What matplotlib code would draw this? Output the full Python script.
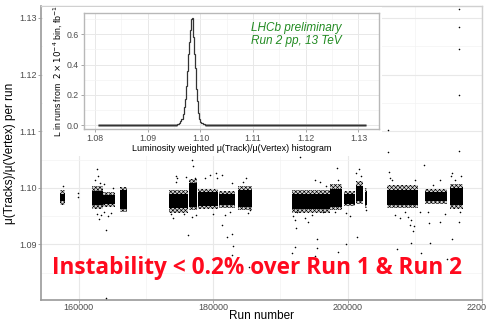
import matplotlib
matplotlib.use("Agg")
import matplotlib.pyplot as plt
from matplotlib.patches import Rectangle
import numpy as np

plt.rcParams['font.family'] = ['Liberation Sans', 'DejaVu Sans']
plt.rcParams['mathtext.fontset'] = 'dejavusans'
plt.rcParams['hatch.linewidth'] = 0.45

# dense blocks of runs: run range, outer (sparse) band, inner (dense) band
blk_start = [157250, 161950, 163600, 166150, 173500, 176400, 177800, 180900, 183700,
             191800, 197400, 199400, 201300, 202650, 205900, 211500, 215300]
blk_end = [157950, 163600, 165400, 167200, 176300, 177600, 180750, 183300, 185800,
           197400, 199200, 201150, 202350, 202950, 210500, 214800, 217200]
blk_lo = [1.0970, 1.0962, 1.0966, 1.0958, 1.0956, 1.0960, 1.0962, 1.0964, 1.0960,
          1.0956, 1.0960, 1.0968, 1.0972, 1.0964, 1.0964, 1.0972, 1.0963]
blk_hi = [1.0997, 1.1003, 1.0993, 1.1001, 1.0997, 1.1015, 1.0998, 1.0994, 1.1004,
          1.0996, 1.1007, 1.0994, 1.1012, 1.0999, 1.1005, 1.0998, 1.1006]
core_lo = [1.0977, 1.0970, 1.0971, 1.0963, 1.0964, 1.0966, 1.0968, 1.0969, 1.0967,
           1.0963, 1.0966, 1.0972, 1.0977, 1.0970, 1.0970, 1.0976, 1.0969]
core_hi = [1.0990, 1.0994, 1.0988, 1.0996, 1.0990, 1.1008, 1.0992, 1.0989, 1.0997,
           1.0990, 1.0998, 1.0990, 1.1004, 1.0993, 1.0997, 1.0993, 1.0999]

# isolated runs
run_pts = [216630, 216630, 216630, 216630, 216630, 206060, 206060, 211420, 192960, 176900,
           162720, 181340, 180450, 174490, 177020, 198480, 201750, 215600, 201290,
           164070, 164070, 176280, 182110, 182850, 183000, 182850, 185380, 181340, 192360,
           194150, 192210, 191760, 195480, 195480, 195180, 198610, 199800, 198910, 201440,
           207400, 209480, 209780, 210970, 212310, 215590, 214840, 212160, 213800, 216630,
           209330, 209030, 209480, 209930,
           162430, 162870, 163170, 163770, 165110, 162720, 163020, 163320, 163770, 164360,
           164810, 157660, 159900, 159900, 173740, 174040, 174490, 174640, 175980, 175680,
           176880, 177470, 177320, 178810, 179550, 180000, 180600, 181790, 182540, 182840,
           184480, 184930, 185230, 185530, 191910, 192210, 192510, 193700, 194740, 195190,
           195930, 196380, 196830, 198160, 198610, 199800, 200400, 202040, 202780, 206210,
           206360, 206660, 207110, 207860, 208600, 210090, 210830, 212020, 212760, 213800,
           214540, 215440, 216030, 216780, 216930]
val_pts = [1.1316, 1.1284, 1.1245, 1.1164, 1.1065, 1.1102, 1.1063, 1.1040, 1.1054, 1.1049,
           1.1033, 1.1022, 1.1026, 1.1021, 1.1038, 1.1035, 1.1033, 1.1026, 1.1026,
           1.0805, 1.0925, 1.0916, 1.0913, 1.0918, 1.0897, 1.0881, 1.0860, 1.0934, 1.0929,
           1.0939, 1.0895, 1.0885, 1.0909, 1.0893, 1.0879, 1.0886, 1.0901, 1.0865, 1.0913,
           1.0892, 1.0902, 1.0923, 1.0885, 1.0902, 1.0909, 1.0874, 1.0938, 1.0939, 1.0939,
           1.0934, 1.0948, 1.0943, 1.0932,
           1.1014, 1.1021, 1.1008, 1.1007, 1.0999, 1.0954, 1.0945, 1.0952, 1.0957, 1.0950,
           1.0955, 1.1003, 1.0991, 1.0984, 1.0954, 1.0946, 1.1010, 1.1017, 1.1019, 1.0954,
           1.0948, 1.0952, 1.1017, 1.1017, 1.1022, 1.0954, 1.1017, 1.0952, 1.0957, 1.1008,
           1.1010, 1.1017, 1.0955, 1.0961, 1.0950, 1.0943, 1.0957, 1.0946, 1.0952, 1.1014,
           1.1010, 1.0957, 1.1003, 1.0957, 1.1014, 1.0955, 1.0950, 1.1021, 1.0961, 1.1028,
           1.1017, 1.1014, 1.0952, 1.0946, 1.0957, 1.1014, 1.0957, 1.0957, 1.1005, 1.1014,
           1.0954, 1.1021, 1.1014, 1.0957, 1.1021]

# luminosity weighted histogram (2e-4 bins around the peak, flat tails)
hist_edges = [1.0805, 1.0956, 1.0958, 1.0960, 1.0962, 1.0964, 1.0966, 1.0968, 1.0970,
              1.0972, 1.0974, 1.0976, 1.0978, 1.0980, 1.0982, 1.0984, 1.0986, 1.0988,
              1.0990, 1.0992, 1.0994, 1.0996, 1.0998, 1.1000, 1.1002, 1.1004, 1.1006,
              1.1008, 1.1314]
hist_vals = [0.002, 0.004, 0.008, 0.015, 0.025, 0.04, 0.07, 0.12, 0.17, 0.26, 0.36,
             0.47, 0.55, 0.63, 0.70, 0.71, 0.58, 0.47, 0.38, 0.24, 0.16, 0.08, 0.04,
             0.02, 0.012, 0.008, 0.005, 0.002]

W, H = 486, 321
fig = plt.figure(figsize=(W / 100, H / 100), dpi=100)
ax = fig.add_axes([41 / W, 1 - 300 / H, 441 / W, 294 / H])

widths = np.array(blk_end) - np.array(blk_start)
ax.bar(blk_start, np.array(blk_hi) - np.array(blk_lo), width=widths, bottom=blk_lo,
       align='edge', facecolor='#d8d8d8', edgecolor='black', hatch='xxxxxxxx', linewidth=0,
       zorder=2)
ax.bar(blk_start, np.array(core_hi) - np.array(core_lo), width=widths, bottom=core_lo,
       align='edge', color='black', linewidth=0, zorder=2)
ax.scatter(run_pts, val_pts, s=1.3, color='black', linewidths=0, zorder=3)

ax.set_xlim(154400, 220000)
ax.set_ylim(1.0802, 1.1321)
ax.set_xticks([160000, 180000, 200000, 220000])
ax.set_xticks([170000, 190000, 210000], minor=True)
ax.set_yticks([1.09, 1.10, 1.11, 1.12, 1.13])
ax.set_yticklabels(['1.09', '1.10', '1.11', '1.12', '1.13'])
ax.set_yticks([1.085, 1.095, 1.105, 1.115, 1.125], minor=True)
ax.grid(which='major', color='#e8e8e8', lw=0.8, zorder=0)
ax.grid(which='minor', color='#f3f3f3', lw=0.5, zorder=0)
ax.set_axisbelow(True)
ax.tick_params(which='major', length=2, width=0.6, color='#999999', labelsize=6.5,
               labelcolor='#4d4d4d', pad=1.2)
ax.tick_params(axis='x', which='major', pad=0.4)
ax.tick_params(which='minor', length=0)
for s in ['left', 'bottom']:
    ax.spines[s].set_color('#9a9a9a')
    ax.spines[s].set_linewidth(1.2)
for s in ['top', 'right']:
    ax.spines[s].set_color('#d0d0d0')
    ax.spines[s].set_linewidth(1.0)
ax.set_xlabel('Run number', fontsize=8.5)
ax.xaxis.set_label_coords(0.5, -0.034)
ax.set_ylabel('μ(Tracks)/μ(Vertex) per run', fontsize=8.5, labelpad=2)

# white area behind the inset
ax.add_patch(Rectangle((43 / W, 1 - 156 / H), 339 / W, 149 / H, transform=fig.transFigure,
                       facecolor='white', edgecolor='none', zorder=5, clip_on=False))

ins = fig.add_axes([84 / W, 1 - 129 / H, 295 / W, 116 / H])
ins.stairs(hist_vals[:1], hist_edges[:2], baseline=None, color='#9a9a9a', lw=2)
ins.stairs(hist_vals[-1:], hist_edges[-2:], baseline=None, color='#9a9a9a', lw=2)
ins.stairs(hist_vals, hist_edges, baseline=None, color='#333333', lw=0.9)
ins.set_xlim(1.0779, 1.1339)
ins.set_ylim(-0.026, 0.741)
ins.set_xticks([1.08, 1.09, 1.10, 1.11, 1.12, 1.13])
ins.set_xticklabels(['1.08', '1.09', '1.10', '1.11', '1.12', '1.13'])
ins.set_xticks([1.085, 1.095, 1.105, 1.115, 1.125], minor=True)
ins.set_yticks([0.0, 0.2, 0.4, 0.6])
ins.set_yticklabels(['0.0', '0.2', '0.4', '0.6'])
ins.set_yticks([0.1, 0.3, 0.5, 0.7], minor=True)
ins.grid(which='major', color='#e8e8e8', lw=0.7)
ins.grid(which='minor', color='#f3f3f3', lw=0.5)
ins.set_axisbelow(True)
ins.tick_params(which='major', length=2, width=0.6, color='#999999', labelsize=6.3,
                labelcolor='#4d4d4d', pad=1.5)
ins.tick_params(which='minor', length=0)
for s in ins.spines.values():
    s.set_color('#b8b8b8')
    s.set_linewidth(1.0)
ins.set_xlabel('Luminosity weighted μ(Track)/μ(Vertex) histogram', fontsize=6.5, labelpad=1)
ins.set_ylabel(r'L in runs from  $2\times10^{-4}$ bin, fb$^{-1}$', fontsize=6.3, labelpad=2)
ins.text(0.72, 0.92, 'LHCb preliminary\nRun 2 pp, 13 TeV', transform=ins.transAxes,
         color='#228b22', fontsize=8.5, style='italic', ha='center', va='top', linespacing=1.1)

fig.text(257 / W, 1 - 268 / H, 'Instability < 0.2% over Run 1 & Run 2', color='#ff0a1e',
         fontsize=16.3, fontweight='bold', family='Open Sans', ha='center', va='center')

fig.savefig('out.png', dpi=100)
